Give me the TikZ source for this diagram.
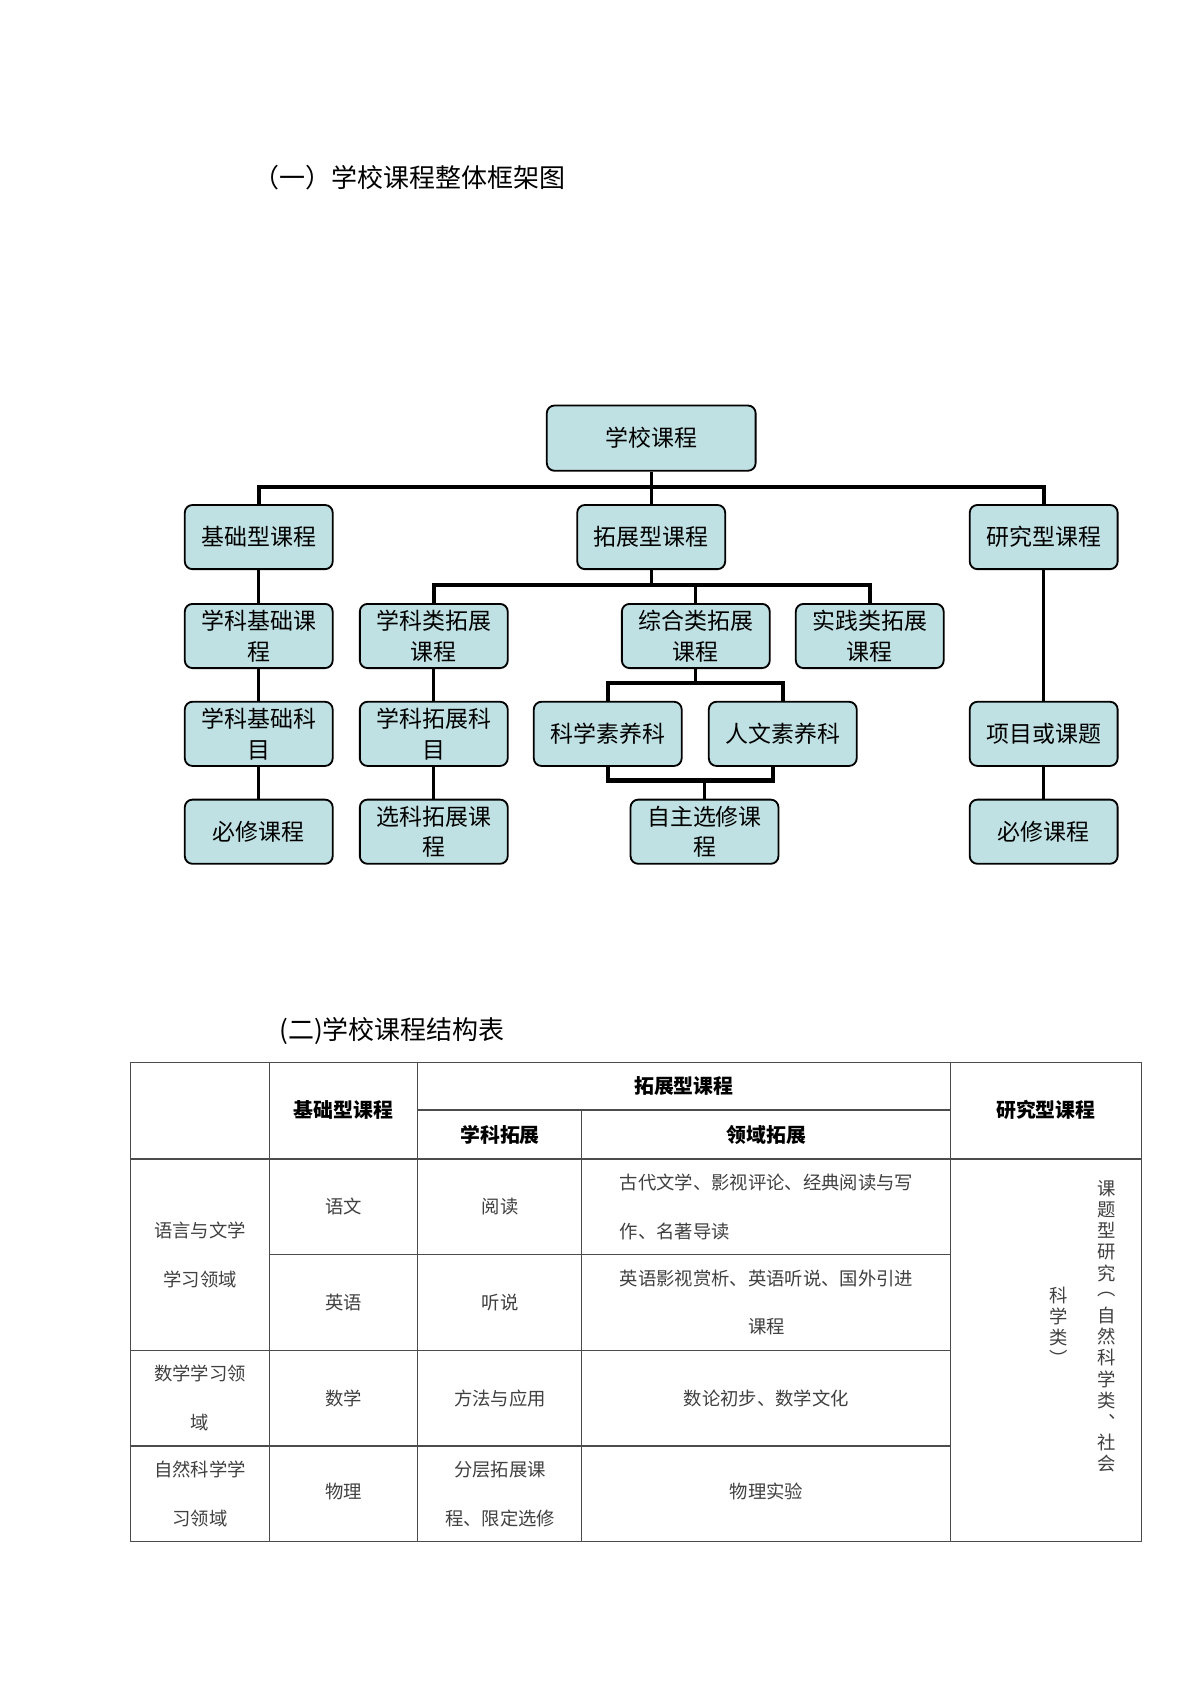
\documentclass[tikz,border=0pt]{standalone}
\usepackage{fontspec}
\setmainfont{Noto Sans CJK SC}
\newfontfamily\cjkb[BoldFont={Noto Sans CJK SC Bold}]{Noto Sans CJK SC}
\begin{document}
\begin{tikzpicture}[x=0.025cm,y=-0.025cm,
  box/.style={draw=black,line width=1.2pt,rounded corners=5pt,fill=boxc,minimum width=3.4cm,minimum height=1.475cm,align=center,inner sep=1pt,font=\fontsize{15}{20}\selectfont},
  bus/.style={line width=2.8pt},
  link/.style={line width=2pt},
  tl/.style={draw=black!70,line width=0.8pt},
  tt/.style={font=\fontsize{12}{14}\selectfont,text=black!75,align=center},
  th/.style={font=\fontsize{13}{15}\selectfont\bfseries,align=center},
  vc/.style={font=\fontsize{12}{14}\selectfont,text=black!75,inner sep=0pt}]
\definecolor{boxc}{HTML}{BFE1E3}
\useasboundingbox (0,0) rectangle (1104,1560);
\fill[white] (0,0) rectangle (1104,1560);
\node[font=\fontsize{17}{20}\selectfont,anchor=west] (t1) at (228,163) {（一）学校课程整体框架图};
% tree
\node[box,minimum width=4.8cm,minimum height=1.5cm] (r) at (599,403) {学校课程};
\node[box] (a) at (238,494) {基础型课程};
\node[box] (b) at (599,494) {拓展型课程};
\node[box] (c) at (960,494) {研究型课程};
\node[box] (a1) at (238,585) {学科基础课\\程};
\node[box] (b1) at (399,585) {学科类拓展\\课程};
\node[box] (b2) at (640,585) {综合类拓展\\课程};
\node[box] (b3) at (800,585) {实践类拓展\\课程};
\node[box] (a2) at (238,675) {学科基础科\\目};
\node[box] (b4) at (399,675) {学科拓展科\\目};
\node[box] (s1) at (559,675) {科学素养科};
\node[box] (s2) at (720,675) {人文素养科};
\node[box] (c1) at (960,675) {项目或课题};
\node[box] (a3) at (238,765) {必修课程};
\node[box] (b5) at (399,765) {选科拓展课\\程};
\node[box] (z) at (648,765) {自主选修课\\程};
\node[box] (c2) at (960,765) {必修课程};
\coordinate (j1) at (599,448);
\draw[link] (r.south) -- (j1);
\draw[bus] (a.north) |- (j1) -| (c.north);
\draw[link] (j1) -- (b.north);
\coordinate (j2) at (599,538);
\draw[link] (b.south) -- (j2);
\draw[bus] (b1.north) |- (j2) -| (b3.north);
\draw[link] (b2.north) -- (b2.north |- j2);
\coordinate (j3) at (640,628);
\draw[link] (b2.south) -- (j3);
\draw[bus] (s1.north) |- (j3) -| (s2.north);
\coordinate (j4) at (648,718);
\draw[bus] (s1.south) |- (j4) -| (711,704);
\draw[link] (j4) -- (z.north);
\draw[link] (a.south) -- (a1.north); \draw[link] (a1.south) -- (a2.north); \draw[link] (a2.south) -- (a3.north);
\draw[link] (b1.south) -- (b4.north); \draw[link] (b4.south) -- (b5.north);
\draw[link] (c.south) -- (c1.north); \draw[link] (c1.south) -- (c2.north);
% table
\node[font=\fontsize{17}{20}\selectfont,anchor=west] (t2) at (252,948) {(二)学校课程结构表};
\draw[tl] (120,977) rectangle (1050,1418);
\foreach \x in {248,384,874} \draw[tl] (\x,977) -- (\x,1418);
\draw[tl] (535,1021) -- (535,1418);
\draw[tl] (384,1021) -- (874,1021);
\draw[tl] (120,1066) -- (1050,1066);
\draw[tl] (248,1154) -- (874,1154);
\draw[tl] (120,1242) -- (874,1242);
\draw[tl] (120,1330) -- (874,1330);
\node[th] (h1) at (316,1021) {基础型课程};
\node[th] (h2) at (629,999) {拓展型课程};
\node[th] (h3) at (460,1044) {学科拓展};
\node[th] (h4) at (705,1044) {领域拓展};
\node[th] (h5) at (962,1021) {研究型课程};
\node[tt] at (184,1154) {语言与文学\\[18pt]学习领域};
\node[tt] at (184,1286) {数学学习领\\[18pt]域};
\node[tt] at (184,1374) {自然科学学\\[18pt]习领域};
\node[tt] at (316,1110) {语文};
\node[tt] at (316,1198) {英语};
\node[tt] at (316,1286) {数学};
\node[tt] at (316,1372) {物理};
\node[tt] at (460,1110) {阅读};
\node[tt] at (460,1198) {听说};
\node[tt] at (460,1286) {方法与应用};
\node[tt] at (460,1374) {分层拓展课\\[18pt]程、限定选修};
\node[tt,align=left] at (705,1110) {古代文学、影视评论、经典阅读与写\\[18pt]作、名著导读};
\node[tt] at (705,1198) {英语影视赏析、英语听说、国外引进\\[18pt]课程};
\node[tt] at (705,1286) {数论初步、数学文化};
\node[tt] at (705,1372) {物理实验};
\foreach \c [count=\i from 0] in {课,题,型,研,究,︵,自,然,科,学,类,︑,社,会}
  \node[vc] at (1018,1093+19.5*\i) {\c};
\foreach \c [count=\i from 0] in {科,学,类,︶}
  \node[vc] at (974,1192+19*\i) {\c};
\end{tikzpicture}
\end{document}
